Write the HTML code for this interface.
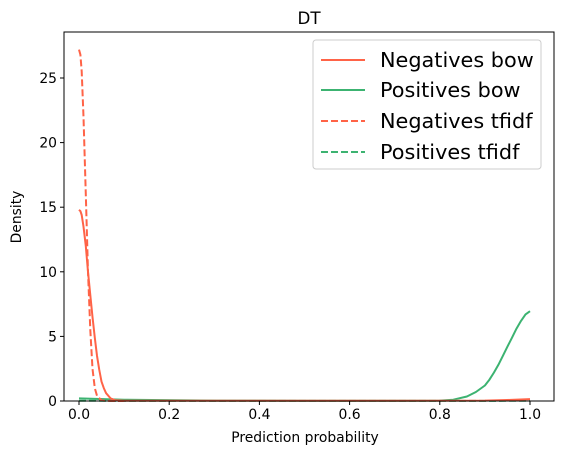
<!DOCTYPE html>
<html><head><meta charset="utf-8"><style>
body{margin:0;background:#fff;font-family:"DejaVu Sans",sans-serif}
svg text{font-family:"DejaVu Sans",sans-serif}
</style></head><body>
<svg width="562" height="455">
<rect width="562" height="455" fill="#fff"/>
<g id="plot"></g>
<rect x="64" y="32" width="490" height="369" fill="none" stroke="#000" stroke-width="1"/>
<g id="ticks"></g>
<text x="309" y="24" font-size="16.7" text-anchor="middle">DT</text>
<text x="305" y="442" font-size="13.9" text-anchor="middle">Prediction probability</text>
<text x="21" y="217" font-size="13.9" text-anchor="middle" transform="rotate(-90 21 217)">Density</text>
<g>
<rect x="313" y="40" width="228" height="129" rx="3" fill="#fff" fill-opacity="0.8" stroke="#ccc"/>
<line x1="321" y1="60" x2="365" y2="60" stroke="#ff6347" stroke-width="2"/>
<text x="380" y="67" font-size="20.8">Negatives bow</text>
<line x1="321" y1="90" x2="365" y2="90" stroke="#3cb371" stroke-width="2"/>
<text x="380" y="97" font-size="20.8">Positives bow</text>
<line x1="321" y1="121" x2="365" y2="121" stroke="#ff6347" stroke-width="2" stroke-dasharray="7,3"/>
<text x="380" y="128" font-size="20.8">Negatives tfidf</text>
<line x1="321" y1="152" x2="365" y2="152" stroke="#3cb371" stroke-width="2" stroke-dasharray="7,3"/>
<text x="380" y="159" font-size="20.8">Positives tfidf</text>
</g>
</svg>
<script>
const negBowX=[0,0.003,0.006,0.01,0.015,0.02,0.025,0.03,0.035,0.04,0.045,0.05,0.055,0.06,0.07,0.08,0.1,0.3,0.5,0.7,0.9,0.95,1.0];
const negBowY=[14.8,14.7,14.4,13.5,12,10,8.2,6.5,4.9,3.5,2.4,1.5,1.0,0.6,0.2,0.06,0.02,0.02,0.02,0.02,0.03,0.08,0.15];
const posBowX=[0,0.1,0.3,0.5,0.7,0.8,0.83,0.86,0.88,0.9,0.91,0.92,0.93,0.94,0.95,0.96,0.97,0.98,0.99,1.0];
const posBowY=[0.2,0.1,0.03,0.02,0.02,0.03,0.1,0.35,0.7,1.2,1.65,2.2,2.8,3.5,4.2,4.9,5.6,6.2,6.7,6.95];
const negTfX=[0,0.003,0.006,0.01,0.015,0.02,0.025,0.03,0.035,0.04,0.05,0.06,0.1];
const negTfY=[27.2,26.8,25.5,22,16,10,5.5,2.5,1,0.4,0.05,0.01,0];
const posTfX=[0,0.1,0.5,0.9,1.0];
const posTfY=[0.02,0.01,0.01,0.01,0.02];
const xTicks=[0,0.2,0.4,0.6,0.8,1.0];
const xTickLabels=["0.0","0.2","0.4","0.6","0.8","1.0"];
const yTicks=[0,5,10,15,20,25];
const yTickLabels=["0","5","10","15","20","25"];
const NS="http://www.w3.org/2000/svg";
const sx=v=>79+v*451, sy=v=>401-v*12.92;
const plot=document.getElementById('plot'), tk=document.getElementById('ticks');
function line(xs,ys,color,dash,name){
  const p=document.createElementNS(NS,'path');
  p.setAttribute('d',xs.map((x,i)=>(i?'L':'M')+sx(x).toFixed(1)+','+sy(ys[i]).toFixed(1)).join(''));
  p.setAttribute('fill','none');p.setAttribute('stroke',color);p.setAttribute('stroke-width','2');p.setAttribute('stroke-linejoin','round');
  if(dash)p.setAttribute('stroke-dasharray','7,3');
  
  
  plot.appendChild(p);
}
line(posBowX,posBowY,'#3cb371',false,'positives-bow-line');
line(posTfX,posTfY,'#3cb371',true,'positives-tfidf-line');
line(negBowX,negBowY,'#ff6347',false,'negatives-bow-line');
line(negTfX,negTfY,'#ff6347',true,'negatives-tfidf-line');
xTicks.forEach((v,i)=>{
  const l=document.createElementNS(NS,'line');
  l.setAttribute('x1',sx(v));l.setAttribute('x2',sx(v));l.setAttribute('y1',401);l.setAttribute('y2',405);l.setAttribute('stroke','#000');
  
  
  tk.appendChild(l);
  const t=document.createElementNS(NS,'text');
  t.setAttribute('x',sx(v));t.setAttribute('y',419);t.setAttribute('font-size','13.9');t.setAttribute('text-anchor','middle');
  t.textContent=xTickLabels[i];
  
  
  tk.appendChild(t);
});
yTicks.forEach((v,i)=>{
  const l=document.createElementNS(NS,'line');
  l.setAttribute('x1',60);l.setAttribute('x2',64);l.setAttribute('y1',sy(v));l.setAttribute('y2',sy(v));l.setAttribute('stroke','#000');
  
  
  tk.appendChild(l);
  const t=document.createElementNS(NS,'text');
  t.setAttribute('x',57);t.setAttribute('y',sy(v)+5);t.setAttribute('font-size','13.9');t.setAttribute('text-anchor','end');
  t.textContent=yTickLabels[i];
  
  
  tk.appendChild(t);
});
</script>
</body></html>
